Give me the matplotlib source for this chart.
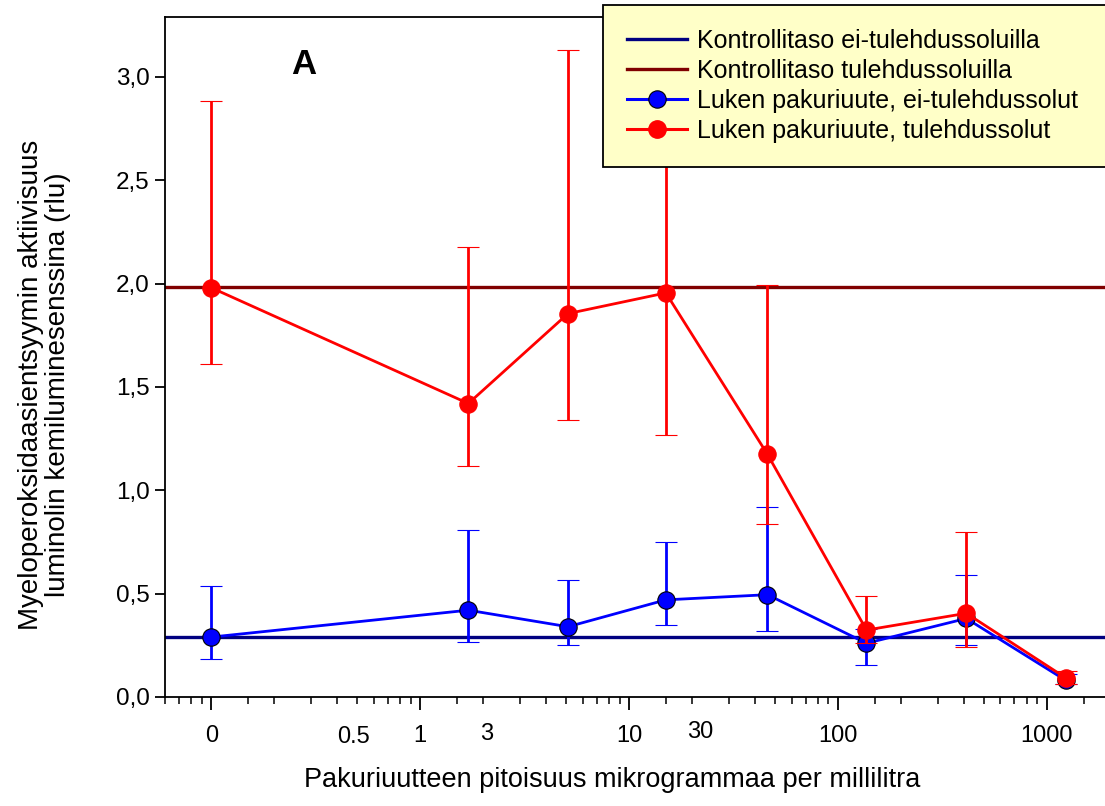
# Myeloperoksidaasi activity vs. pakuriuute concentration (panel A)
import matplotlib
matplotlib.use("Agg")
import matplotlib.pyplot as plt
import matplotlib.ticker as mticker
import matplotlib.transforms as mtransforms
from matplotlib.lines import Line2D

plt.rcParams['font.family'] = ['Liberation Sans', 'DejaVu Sans']

# Data (concentration 0 is drawn at 0.1 on the log axis)
conc = [0.1, 1.7, 5.1, 15, 46, 137, 412, 1235]

# non-inflamed cells (blue)
blue_mean = [0.29, 0.42, 0.34, 0.47, 0.495, 0.26, 0.38, 0.08]
blue_low = [0.185, 0.268, 0.25, 0.348, 0.32, 0.155, 0.25, 0.062]
blue_high = [0.537, 0.807, 0.565, 0.75, 0.918, 0.33, 0.59, 0.11]

# inflamed cells (red)
red_mean = [1.98, 1.42, 1.855, 1.955, 1.174, 0.324, 0.405, 0.092]
red_low = [1.609, 1.12, 1.338, 1.27, 0.836, 0.26, 0.242, 0.063]
red_high = [2.884, 2.176, 3.13, 2.65, 1.995, 0.488, 0.798, 0.126]

control_blue = 0.29
control_red = 1.985

yticks = [0.0, 0.5, 1.0, 1.5, 2.0, 2.5, 3.0]
ytick_labels = ["0,0", "0,5", "1,0", "1,5", "2,0", "2,5", "3,0"]
xticks = [0.1, 1, 10, 100, 1000]
xtick_labels = ["0", "1", "10", "100", "1000"]
# extra labels that sit off the tick marks in the original
extra_pos = [0.48, 2.09, 22]
extra_labels = ["0.5", "3", "30"]
extra_dy = [-0.059, -0.054, -0.051]

legend_labels = ["Kontrollitaso ei-tulehdussoluilla",
                 "Kontrollitaso tulehdussoluilla",
                 "Luken pakuriuute, ei-tulehdussolut",
                 "Luken pakuriuute, tulehdussolut"]

fig = plt.figure(figsize=(11.05, 8.06), dpi=100)
ax = fig.add_axes([165 / 1105, 1 - 697 / 806, 1 - 165 / 1105, (697 - 17) / 806])

ax.axhline(control_blue, color="#000080", lw=2.4, zorder=2)
ax.axhline(control_red, color="#800000", lw=2.4, zorder=2)

def err(mean, low, high):
    return [[m - l for m, l in zip(mean, low)], [h - m for m, h in zip(mean, high)]]

ax.errorbar(conc, blue_mean, yerr=err(blue_mean, blue_low, blue_high),
            color="#0000FF", lw=2.0, elinewidth=2.0, capsize=8, capthick=2.0,
            marker="o", ms=12.5, mfc="#0000FF", mec="black", mew=0.8, zorder=3)
ax.errorbar(conc, red_mean, yerr=err(red_mean, red_low, red_high),
            color="#FF0000", lw=2.0, elinewidth=2.0, capsize=8, capthick=2.0,
            marker="o", ms=12.5, mfc="#FF0000", mec="#FF0000", mew=0.8, zorder=4)

ax.set_xscale("log")
ax.set_xlim(0.06, 1900)
ax.set_ylim(0, 3.29)

ax.xaxis.set_major_locator(mticker.FixedLocator(xticks))
ax.xaxis.set_major_formatter(mticker.FixedFormatter(xtick_labels))
minors = [0.06, 0.07, 0.08, 0.09]
for dec in [0.1, 1, 10, 100, 1000]:
    for m in [1.5, 2, 3, 4, 5, 6, 7, 8, 9]:
        minors.append(m * dec)
ax.xaxis.set_minor_locator(mticker.FixedLocator(minors))
ax.xaxis.set_minor_formatter(mticker.NullFormatter())
ax.tick_params(axis="x", which="major", direction="out", length=9, width=1.3,
               pad=11, labelsize=17)
ax.tick_params(axis="x", which="minor", direction="out", length=5, width=1.1)

ax.set_yticks(yticks)
ax.set_yticklabels(ytick_labels)
ax.tick_params(axis="y", direction="out", length=7, width=1.3, pad=4, labelsize=17.5)

trans = mtransforms.blended_transform_factory(ax.transData, ax.transAxes)
for xp, lab, dy in zip(extra_pos, extra_labels, extra_dy):
    ax.text(xp, dy, lab, transform=trans, ha="center", va="center", fontsize=17)

for s in ["left", "bottom", "top"]:
    ax.spines[s].set_linewidth(1.3)
ax.spines["right"].set_visible(False)

ax.set_ylabel("Myeloperoksidaasientsyymin aktiivisuus\nluminolin kemiluminesenssina (rlu)",
              fontsize=20, linespacing=1.05, va="center")
ax.yaxis.set_label_coords(-0.128, 0.459)
ax.set_xlabel("Pakuriuutteen pitoisuus mikrogrammaa per millilitra", fontsize=19.5,
              va="center")
ax.xaxis.set_label_coords(0.4755, -0.122)

ax.text(0.148, 0.93, "A", transform=ax.transAxes, fontsize=25, fontweight="bold",
        ha="center", va="center")

handles = [Line2D([], [], color="#000080", lw=2.4),
           Line2D([], [], color="#800000", lw=2.4),
           Line2D([], [], color="#0000FF", lw=2.2, marker="o", ms=12.5, mfc="#0000FF", mec="black", mew=0.8),
           Line2D([], [], color="#FF0000", lw=2.2, marker="o", ms=12.5, mfc="#FF0000", mec="#FF0000")]
leg = fig.legend(handles, legend_labels, loc="upper left",
                 bbox_to_anchor=(603 / 1105, 0, 530 / 1105, 1 - 5 / 806),
                 mode="expand", fontsize=18,
                 frameon=True, fancybox=False, framealpha=1, edgecolor="black",
                 facecolor="#FFFFC8", handlelength=2.4, labelspacing=0.24,
                 borderpad=0.95, handletextpad=0.42, borderaxespad=0)
leg.get_frame().set_linewidth(1.3)

fig.savefig("out.png", dpi=100)
